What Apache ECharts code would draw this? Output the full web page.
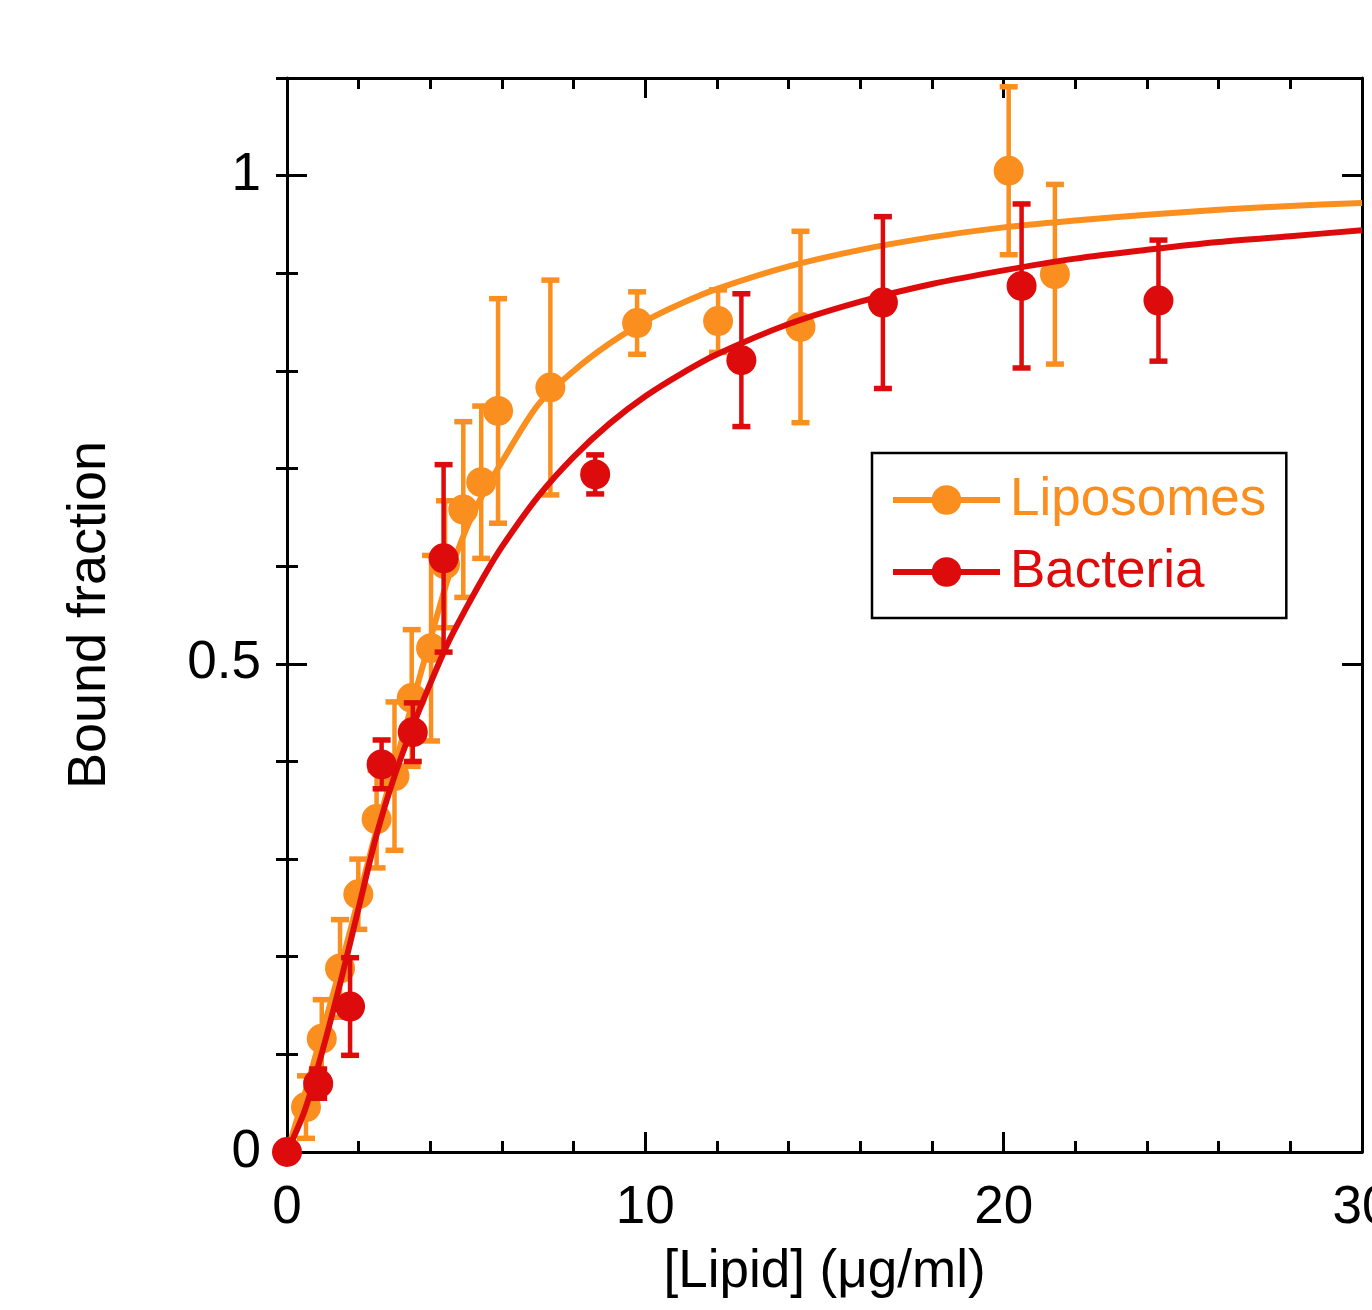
<!DOCTYPE html>
<html>
<head>
<meta charset="utf-8">
<script src="https://cdn.jsdelivr.net/npm/echarts/dist/echarts.min.js"></script>
<style>
html,body{margin:0;padding:0;background:#fff;}
#chart{width:1372px;height:1310px;}
</style>
</head>
<body>
<div id="chart"></div>
<script>
// ---- data ----
var lipoX   = [0.53, 0.97, 1.48, 1.99, 2.50, 3.00, 3.48, 4.02, 4.41, 4.92, 5.42, 5.89, 7.35, 9.77, 12.03, 14.33, 20.14, 21.43];
var lipoY   = [0.046, 0.116, 0.188, 0.264, 0.341, 0.385, 0.465, 0.516, 0.602, 0.658, 0.686, 0.759, 0.783, 0.849, 0.851, 0.845, 1.005, 0.899];
var lipoErr = [0.032, 0.040, 0.050, 0.036, 0.050, 0.076, 0.070, 0.095, 0.065, 0.090, 0.078, 0.115, 0.110, 0.032, 0.032, 0.098, 0.086, 0.092];

var bactX   = [0, 0.87, 1.76, 2.64, 3.51, 4.37, 8.60, 12.68, 16.63, 20.50, 24.32];
var bactY   = [0, 0.070, 0.149, 0.397, 0.430, 0.608, 0.694, 0.811, 0.870, 0.887, 0.872];
var bactErr = [0, 0.015, 0.050, 0.025, 0.030, 0.096, 0.020, 0.068, 0.088, 0.084, 0.062];

var curveX    = [0, 0.5, 1, 1.5, 2, 2.5, 3, 3.5, 4, 4.5, 5, 5.5, 6, 7, 8, 9, 10, 11, 12, 14, 16, 18, 20, 22, 24, 26, 28, 30];
var lipoCurve = [0, 0.060, 0.125, 0.190, 0.260, 0.330, 0.395, 0.460, 0.525, 0.588, 0.638, 0.676, 0.707, 0.765, 0.800, 0.828, 0.851, 0.869, 0.884, 0.907, 0.924, 0.937, 0.947, 0.954, 0.960, 0.965, 0.969, 0.972];
var bactCurve = [0, 0.043, 0.105, 0.175, 0.250, 0.325, 0.385, 0.435, 0.480, 0.522, 0.557, 0.590, 0.620, 0.671, 0.712, 0.746, 0.774, 0.797, 0.817, 0.848, 0.871, 0.889, 0.903, 0.915, 0.924, 0.932, 0.938, 0.944];

var xTickLabels = ['0', '10', '20', '30'];
var yTickLabels = ['0', '0.5', '1'];

var ORANGE = '#FA8F1F';
var RED = '#DD0B0B';
var FONT = '"Liberation Sans", Arial, sans-serif';

function zip2(a, b) { return a.map(function (v, i) { return [v, b[i]]; }); }
function zip3(a, b, c) { return a.map(function (v, i) { return [v, b[i], c[i]]; }); }

function errRender(color) {
  return function (params, api) {
    var x = api.value(0), y = api.value(1), e = api.value(2);
    if (!e) return null;
    var t = api.coord([x, y + e]), b = api.coord([x, y - e]);
    var hw = 9;
    var st = { stroke: color, lineWidth: 4.5 };
    return {
      type: 'group',
      children: [
        { type: 'line', shape: { x1: t[0], y1: t[1], x2: b[0], y2: b[1] }, style: st },
        { type: 'line', shape: { x1: t[0] - hw, y1: t[1], x2: t[0] + hw, y2: t[1] }, style: { stroke: color, lineWidth: 5.5 } },
        { type: 'line', shape: { x1: b[0] - hw, y1: b[1], x2: b[0] + hw, y2: b[1] }, style: { stroke: color, lineWidth: 5.5 } }
      ]
    };
  };
}

var lineStyleAxis = { color: '#000', width: 3 };

function xAx(pos, showLabel) {
  return {
    type: 'value', position: pos, min: 0, max: 30, interval: 10,
    axisLine: { show: true, onZero: false, lineStyle: lineStyleAxis },
    axisTick: { show: true, inside: true, length: 20, lineStyle: { color: '#000', width: 3 } },
    minorTick: { show: true, splitNumber: 5, length: 11, lineStyle: { color: '#000', width: 3 } },
    splitLine: { show: false }, minorSplitLine: { show: false },
    axisLabel: {
      show: showLabel, fontSize: 53, color: '#000', fontFamily: FONT, margin: 30,
      formatter: function (v) { var i = Math.round(v / 10); return xTickLabels[i] !== undefined ? xTickLabels[i] : ''; }
    },
    name: showLabel ? '[Lipid] (μg/ml)' : '',
    nameLocation: 'middle', nameGap: 94,
    nameTextStyle: { fontSize: 53, color: '#000', fontFamily: FONT }
  };
}

function yMajor(pos, showLabel) {
  return {
    type: 'value', position: pos, min: 0, max: 1.1, interval: 0.5,
    axisLine: { show: true, onZero: false, lineStyle: lineStyleAxis },
    axisTick: { show: true, inside: true, length: 20, lineStyle: { color: '#000', width: 3 } },
    splitLine: { show: false },
    axisLabel: {
      show: showLabel, fontSize: 53, color: '#000', fontFamily: FONT, margin: 26, showMaxLabel: false,
      formatter: function (v) { var i = Math.round(v / 0.5); return (Math.abs(v - i * 0.5) < 1e-6 && yTickLabels[i] !== undefined) ? yTickLabels[i] : ''; }
    },
    name: showLabel ? 'Bound fraction' : '',
    nameLocation: 'middle', nameGap: 170,
    nameTextStyle: { fontSize: 54, color: '#000', fontFamily: FONT }
  };
}

function yMinor(pos) {
  return {
    type: 'value', position: pos, min: 0, max: 1.1, interval: 0.1,
    axisLine: { show: false },
    axisTick: { show: true, inside: true, length: 11, lineStyle: { color: '#000', width: 3 } },
    splitLine: { show: false },
    axisLabel: { show: false }
  };
}

var chart = echarts.init(document.getElementById('chart'), null, { renderer: 'canvas' });
chart.setOption({
  animation: false,
  backgroundColor: '#fff',
  grid: { left: 287, right: 10, top: 78, bottom: 158, containLabel: false, outerBoundsMode: 'none' },
  xAxis: [xAx('bottom', true), xAx('top', false)],
  yAxis: [yMajor('left', true), yMinor('left'), yMajor('right', false), yMinor('right')],
  legend: {
    orient: 'vertical', left: 872, top: 453,
    padding: [19, 20, 18, 18],
    itemWidth: 107, itemHeight: 37, itemGap: 16,
    backgroundColor: '#fff', borderColor: '#000', borderWidth: 2.5,
    lineStyle: { width: 6 },
    textStyle: { fontSize: 53, fontFamily: FONT, lineHeight: 56, padding: [0, 0, 0, 5] },
    data: [
      { name: 'Liposomes', textStyle: { color: ORANGE } },
      { name: 'Bacteria', textStyle: { color: RED } }
    ]
  },
  series: [
    {
      name: 'Liposomes', type: 'line', data: zip2(curveX, lipoCurve), smooth: 0.3,
      symbol: 'circle', showSymbol: false, symbolSize: 30,
      lineStyle: { color: ORANGE, width: 6 }, itemStyle: { color: ORANGE }, z: 2
    },
    {
      name: 'Bacteria', type: 'line', data: zip2(curveX, bactCurve), smooth: 0.3,
      symbol: 'circle', showSymbol: false, symbolSize: 30,
      lineStyle: { color: RED, width: 6 }, itemStyle: { color: RED }, z: 5
    },
    {
      name: 'Liposomes', type: 'custom', renderItem: errRender(ORANGE),
      data: zip3(lipoX, lipoY, lipoErr), encode: { x: 0, y: 1 }, z: 3, clip: false
    },
    {
      name: 'Liposomes', type: 'scatter', data: zip2(lipoX, lipoY), symbol: 'circle', symbolSize: 30,
      itemStyle: { color: ORANGE, opacity: 1 }, z: 4
    },
    {
      name: 'Bacteria', type: 'custom', renderItem: errRender(RED),
      data: zip3(bactX, bactY, bactErr), encode: { x: 0, y: 1 }, z: 6, clip: false
    },
    {
      name: 'Bacteria', type: 'scatter', data: zip2(bactX, bactY), symbol: 'circle', symbolSize: 30,
      itemStyle: { color: RED, opacity: 1 }, z: 7, clip: false
    }
  ]
});
</script>
</body>
</html>
